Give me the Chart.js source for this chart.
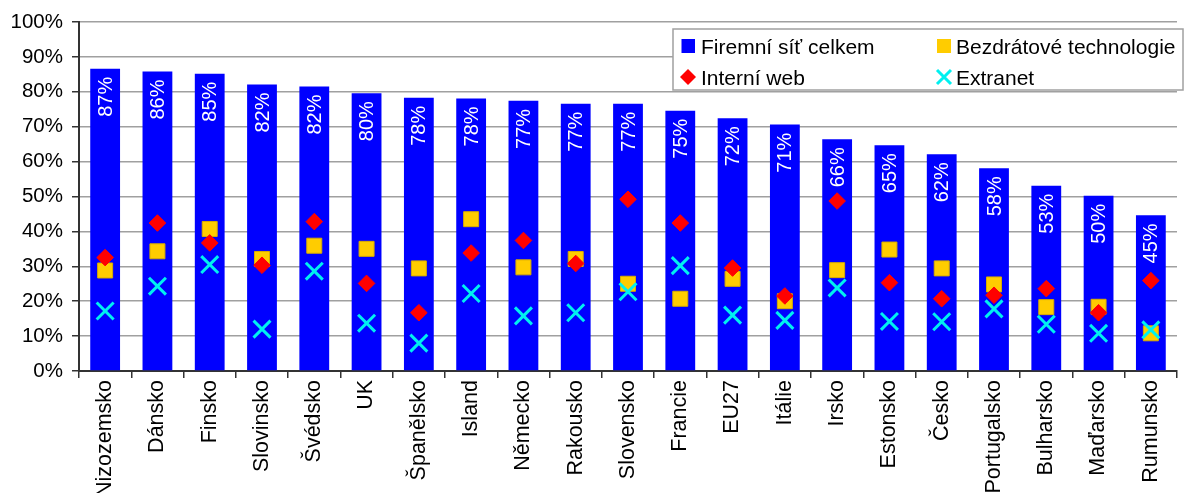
<!DOCTYPE html>
<html lang="cs">
<head>
<meta charset="utf-8">
<title>Firemní síť a její součásti</title>
<script src="https://cdnjs.cloudflare.com/ajax/libs/Chart.js/4.4.1/chart.umd.min.js"></script>
<style>
html,body{margin:0;padding:0;background:#fff;overflow:hidden;}
#wrap{position:absolute;left:0;top:0;width:1192px;height:493px;}
</style>
</head>
<body>
<div id="wrap"><canvas id="c" width="1192" height="493"></canvas></div>
<script>
// Countries, ordered by the share of firms with a company network
const COUNTRIES = ['Nizozemsko','Dánsko','Finsko','Slovinsko','Švédsko','UK','Španělsko','Island',
  'Německo','Rakousko','Slovensko','Francie','EU27','Itálie','Irsko','Estonsko','Česko',
  'Portugalsko','Bulharsko','Maďarsko','Rumunsko'];
// % of firms
const NETWORK  = [86.6,85.8,85.2,82.1,81.5,79.6,78.3,78.1,77.4,76.6,76.6,74.6,72.4,70.6,66.4,64.7,62.1,58.1,53.1,50.2,44.6];
const WIRELESS = [28.8,34.3,40.7,32.1,35.9,35.0,29.4,43.5,29.7,32.1,25.0,20.7,26.4,20.0,28.9,34.8,29.4,24.8,18.3,18.4,10.8];
const INTRANET = [32.5,42.4,36.7,30.3,42.8,25.1,16.7,33.8,37.4,30.8,49.2,42.4,29.5,21.5,48.7,25.3,20.7,21.7,23.6,16.7,25.9];
const EXTRANET = [17.2,24.3,30.5,12.0,28.6,13.7,8.0,22.2,15.8,16.7,22.7,30.2,16.0,14.5,23.8,14.2,14.1,17.8,13.4,10.8,11.8];

const FONT = '"Liberation Sans", Arial, sans-serif';
const BLUE='#0000ff', YELLOW='#ffcc00', RED='#ff0000', CYAN='#00f0f0';

// white rotated % labels at the top of each bar (drawn right after the bars, under the markers)
const barLabels = {
  id:'barLabels',
  afterDatasetDraw(chart,args){
    if(args.index!==0) return;
    const ctx=chart.ctx;
    ctx.save();
    ctx.fillStyle='#fff';
    ctx.font='20px '+FONT;
    ctx.textAlign='right'; ctx.textBaseline='middle';
    args.meta.data.forEach((bar,i)=>{
      ctx.save();
      ctx.translate(bar.x,bar.y+8);
      ctx.rotate(-Math.PI/2);
      ctx.fillText(Math.round(NETWORK[i])+'%',0,1);
      ctx.restore();
    });
    ctx.restore();
  }
};

// boxed two-column legend, top right
const boxLegend = {
  id:'boxLegend',
  afterDraw(chart){
    const ctx=chart.ctx;
    ctx.save();
    ctx.fillStyle='#fff'; ctx.strokeStyle='#a0a0a0'; ctx.lineWidth=1.5;
    ctx.fillRect(673,29,510,61); ctx.strokeRect(673,29,510,61);
    // markers
    ctx.fillStyle=BLUE;   ctx.fillRect(681.5,39,13.5,14);
    ctx.fillStyle=YELLOW; ctx.fillRect(937,39,14,14);
    ctx.fillStyle=RED;
    ctx.beginPath(); ctx.moveTo(688,69); ctx.lineTo(696,77); ctx.lineTo(688,85); ctx.lineTo(680,77); ctx.closePath(); ctx.fill();
    ctx.strokeStyle=CYAN; ctx.lineWidth=3;
    ctx.beginPath(); ctx.moveTo(937,70); ctx.lineTo(951,84); ctx.moveTo(951,70); ctx.lineTo(937,84); ctx.stroke();
    // texts
    ctx.fillStyle='#000'; ctx.font='21px '+FONT; ctx.textBaseline='alphabetic'; ctx.textAlign='left';
    ctx.fillText('Firemní síť celkem',701,53.5);
    ctx.fillText('Bezdrátové technologie',956,53.5);
    ctx.fillText('Interní web',701,84.5);
    ctx.fillText('Extranet',956,84.5);
    ctx.restore();
  }
};

new Chart(document.getElementById('c'),{
  data:{
    labels:COUNTRIES,
    datasets:[
      {type:'bar',label:'Firemní síť celkem',data:NETWORK,backgroundColor:BLUE,
       categoryPercentage:1,barPercentage:0.57,order:10},
      {type:'line',label:'Bezdrátové technologie',data:WIRELESS,showLine:false,pointStyle:'rect',
       pointRadius:10.6,backgroundColor:YELLOW,borderColor:'#d8ac00',pointBorderWidth:1,order:3},
      {type:'line',label:'Interní web',data:INTRANET,showLine:false,pointStyle:'rectRot',
       pointRadius:8.3,backgroundColor:RED,borderColor:RED,pointBorderWidth:1,order:2},
      {type:'line',label:'Extranet',data:EXTRANET,showLine:false,pointStyle:'crossRot',
       pointRadius:12,borderColor:CYAN,backgroundColor:CYAN,pointBorderWidth:3,order:1},
    ]
  },
  options:{
    responsive:false,animation:false,events:[],
    layout:{padding:{top:22,right:0,left:0,bottom:0}},
    plugins:{legend:{display:false},tooltip:{enabled:false}},
    scales:{
      x:{
        afterFit:s=>{s.height=122;},
        grid:{drawOnChartArea:false,tickLength:7,color:'#333',lineWidth:1.5},
        border:{color:'#333',width:2},
        ticks:{font:{family:FONT,size:21.5},color:'#000',minRotation:90,maxRotation:90,autoSkip:false,padding:2}
      },
      y:{
        min:0,max:100,
        afterFit:s=>{s.width=79;},
        grid:{color:'#a0a0a0',lineWidth:1.5,tickColor:'#333',tickLength:7},
        border:{color:'#333',width:2},
        ticks:{stepSize:10,callback:v=>v+'%',font:{family:FONT,size:20.5},color:'#000',padding:9}
      }
    }
  },
  plugins:[barLabels,boxLegend]
});
</script>
</body>
</html>
